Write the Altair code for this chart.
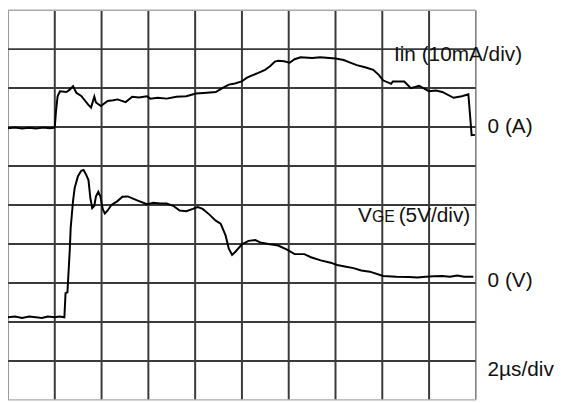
import altair as alt
import pandas as pd

# ---- data ----
# time in microseconds (2 us/div, 10 divisions)
iin_t = [0.0, 0.3, 0.6, 0.9, 1.2, 1.5, 1.8, 1.95, 2.0, 2.05, 2.12, 2.22, 2.5, 2.64, 2.78, 2.92,
         3.13, 3.42, 3.55, 3.69, 3.76, 3.97, 4.26, 4.5, 4.68, 5.03, 5.31, 5.6, 5.94, 6.08,
         6.4, 6.78, 7.2, 7.62, 8.04, 8.5, 8.88, 9.2, 9.44, 9.7, 9.99, 10.2, 10.41, 10.7,
         10.99, 11.2, 11.41, 11.55, 11.8, 12.04, 12.25, 12.51, 13.0, 13.35, 14.0, 14.35,
         14.6, 14.91, 15.3, 15.61, 15.85, 16.03, 16.38, 16.45, 16.94,
         17.22, 17.57, 17.99, 18.3, 18.56, 19.05, 19.4, 19.68, 19.82, 19.96]
# input current in mA (10 mA/div, zero on 7th division)
iin_ma = [-0.3, -0.1, -0.4, -0.2, -0.4, -0.1, -0.3, -0.2, 0.0, 4.0, 7.9, 9.2, 9.0, 9.6, 10.5, 8.8,
          8.0, 5.8, 5.0, 7.8, 6.3, 5.4, 6.7, 6.9, 7.1, 6.4, 7.8, 7.6, 7.9, 7.3,
          7.5, 7.3, 7.8, 7.9, 8.6, 8.8, 9.0, 10.1, 10.9, 11.2, 11.7, 12.6, 13.2, 13.9,
          14.7, 15.6, 16.8, 17.0, 16.9, 16.5, 17.4, 17.9, 17.7, 17.9, 17.6, 17.2,
          16.6, 15.9, 15.3, 14.7, 13.4, 12.0, 11.1, 11.7, 11.7,
          10.0, 10.6, 9.2, 9.4, 9.0, 7.5, 7.9, 8.4, -2.1, -2.0]

vge_t = [0.0, 0.3, 0.6, 0.9, 1.2, 1.45, 1.7, 2.0, 2.2, 2.41, 2.46, 2.54, 2.64, 2.68, 2.78, 2.85, 2.99,
         3.13, 3.23, 3.34, 3.44, 3.52, 3.6, 3.69, 3.76, 3.86, 3.95, 4.05, 4.14,
         4.26, 4.42, 4.68, 4.89, 5.12, 5.52, 5.94, 6.22, 6.5, 6.78, 7.06, 7.34, 7.62,
         7.9, 8.11, 8.32, 8.6, 8.88, 9.09, 9.3, 9.44, 9.58, 9.72, 10.0, 10.28,
         10.57, 10.78, 11.13, 11.55, 11.97, 12.25, 12.67, 12.95, 13.37, 13.79,
         14.07, 14.4, 14.77, 15.1, 15.47, 16.03, 16.6, 17.15, 17.5, 17.85, 18.2, 18.56,
         18.9, 19.2, 19.5, 19.89]
# gate-emitter voltage in V (5 V/div, zero on 3rd division)
vge_v = [-4.4, -4.3, -4.5, -4.3, -4.4, -4.5, -4.3, -4.4, -4.3, -4.4, -1.3, -1.2, 4.2, 7.1, 10.5, 12.2, 13.7,
         14.4, 14.5, 13.9, 13.2, 10.9, 9.6, 9.9, 11.1, 11.7, 11.1, 9.5, 8.9,
         9.3, 10.0, 10.5, 11.05, 11.1, 10.6, 10.1, 10.3, 10.2, 10.2, 9.9, 9.3, 9.2,
         9.5, 9.75, 9.5, 8.8, 8.0, 7.6, 6.1, 4.4, 3.6, 4.0, 4.95, 5.4,
         5.5, 5.2, 5.0, 4.8, 4.2, 3.7, 3.7, 3.3, 2.9, 2.6,
         2.3, 2.1, 1.9, 1.6, 1.45, 0.9, 0.8, 0.75, 0.7, 0.8, 0.85, 0.9,
         0.8, 0.95, 0.8, 0.8]

inner_divs = [1, 2, 3, 4, 5, 6, 7, 8, 9]
frame_divs = [0, 10]

W, H = 473, 394
xs = alt.Scale(domain=[0, 20], nice=False, zero=False)
ys = alt.Scale(domain=[0, 10], nice=False, zero=False)

iin = pd.DataFrame({"t": iin_t, "i": iin_ma})
vge = pd.DataFrame({"t": vge_t, "v": vge_v})
vdf = pd.DataFrame({"d": inner_divs})
fdf = pd.DataFrame({"d": frame_divs})

vgrid = alt.Chart(vdf).transform_calculate(t="datum.d*2", y0="0", y1="10").mark_rule(
    color="#3a3a3a", strokeWidth=2).encode(
    x=alt.X("t:Q", scale=xs, axis=None),
    y=alt.Y("y0:Q", scale=ys, axis=None), y2="y1:Q")
hgrid = alt.Chart(vdf).transform_calculate(x0="0", x1="20").mark_rule(
    color="#3a3a3a", strokeWidth=2).encode(
    y=alt.Y("d:Q", scale=ys, axis=None),
    x=alt.X("x0:Q", scale=xs, axis=None), x2="x1:Q")
vframe = alt.Chart(fdf).transform_calculate(t="datum.d*2", y0="0", y1="10").mark_rule(
    color="#555555", strokeWidth=1.2).encode(
    x=alt.X("t:Q", scale=xs, axis=None),
    y=alt.Y("y0:Q", scale=ys, axis=None), y2="y1:Q")
hframe = alt.Chart(fdf).transform_calculate(x0="0", x1="20").mark_rule(
    color="#aaaaaa", strokeWidth=1.5).encode(
    y=alt.Y("d:Q", scale=ys, axis=None),
    x=alt.X("x0:Q", scale=xs, axis=None), x2="x1:Q")

iline = alt.Chart(iin).transform_calculate(y="7 + datum.i/10").mark_line(
    color="black", strokeWidth=2, interpolate="linear").encode(
    x=alt.X("t:Q", scale=xs, axis=None),
    y=alt.Y("y:Q", scale=ys, axis=None), order="t:Q")
vline = alt.Chart(vge).transform_calculate(y="3 + datum.v/5").mark_line(
    color="black", strokeWidth=2, interpolate="linear").encode(
    x=alt.X("t:Q", scale=xs, axis=None),
    y=alt.Y("y:Q", scale=ys, axis=None), order="t:Q")

lab_text = ["Iin (10mA/div)", "0 (A)", "V", "(5V/div)", "0 (V)", "2\u00b5s/div"]
lab_t = [16.5, 20.5, 14.96, 16.7, 20.5, 20.5]
lab_y = [8.85, 7.0, 4.72, 4.72, 3.05, 0.77]
labs = pd.DataFrame({"text": lab_text, "t": lab_t, "y": lab_y})
sub = pd.DataFrame({"text": ["GE"], "t": [15.56], "y": [4.72]})

font = "Liberation Sans"
labels = alt.Chart(labs).mark_text(
    align="left", baseline="middle", fontSize=21, font=font, color="#111111").encode(
    x=alt.X("t:Q", scale=xs, axis=None),
    y=alt.Y("y:Q", scale=ys, axis=None), text="text:N")
sublab = alt.Chart(sub).mark_text(
    align="left", baseline="middle", dy=1, fontSize=16, font=font, color="#111111").encode(
    x=alt.X("t:Q", scale=xs, axis=None),
    y=alt.Y("y:Q", scale=ys, axis=None), text="text:N")

chart = alt.layer(vgrid, hgrid, vframe, hframe, iline, vline, labels, sublab).properties(
    width=W, height=H,
    autosize=alt.AutoSizeParams(type="none"),
    padding={"left": 0, "top": 0, "right": 80, "bottom": 2},
    background="white",
).configure_view(stroke=None)

chart.save("out.html", embed_options={"renderer": "svg", "actions": False})
